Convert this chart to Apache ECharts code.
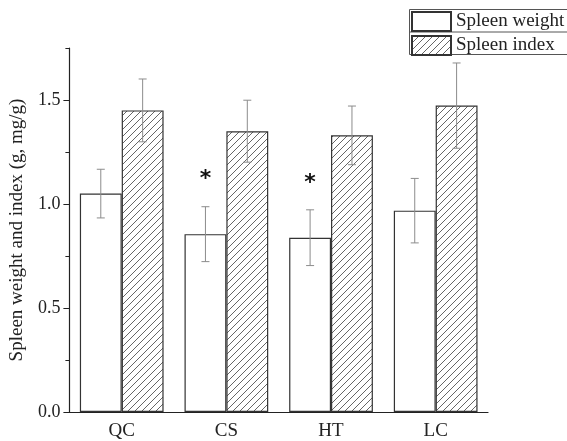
<!DOCTYPE html>
<html>
<head>
<meta charset="utf-8">
<script src="https://cdn.jsdelivr.net/npm/echarts@6/dist/echarts.min.js"></script>
<style>
    html, body { margin: 0; padding: 0; background: #fff; }
    #chart { width: 567px; height: 441px; }
</style>
</head>
<body>
<div id="chart"></div>
<script>
    // data
    var groups = ['QC', 'CS', 'HT', 'LC'];
    var weightMean = [1.05, 0.855, 0.838, 0.968];
    var weightErr = [0.117, 0.132, 0.134, 0.155];
    var indexMean = [1.45, 1.35, 1.33, 1.473];
    var indexErr = [0.151, 0.149, 0.141, 0.205];
    var weightSig = ['', '*', '*', ''];
    var yTicks = [0, 0.5, 1.0, 1.5];
    var yMax = 1.75;

    var serif = '"Liberation Serif", "DejaVu Serif", serif';
    var txt = '#222';

    var errData = [];
    for (var i = 0; i < groups.length; i++) {
        errData.push([i, weightMean[i], weightErr[i], -1]);
        errData.push([i, indexMean[i], indexErr[i], 1]);
    }
    var sigData = [];
    for (var i = 0; i < groups.length; i++) {
        if (weightSig[i]) sigData.push([i, weightMean[i] + weightErr[i], weightSig[i]]);
    }

    // "/" hatch pattern
    function makeHatch(s) {
        var c = document.createElement('canvas');
        c.width = s;
        c.height = s;
        var ctx = c.getContext('2d');
        ctx.fillStyle = '#fff';
        ctx.fillRect(0, 0, s, s);
        ctx.strokeStyle = '#555';
        ctx.lineWidth = 0.9;
        ctx.beginPath();
        ctx.moveTo(-1, s + 1); ctx.lineTo(s + 1, -1);
        ctx.moveTo(-1, 1); ctx.lineTo(1, -1);
        ctx.moveTo(s - 1, s + 1); ctx.lineTo(s + 1, s - 1);
        ctx.stroke();
        return c;
    }

    function renderErr(params, api) {
        var i = api.value(0), m = api.value(1), e = api.value(2), side = api.value(3);
        var band = api.size([1, 0])[0];
        var top = api.coord([i, m + e]);
        var bot = api.coord([i, m - e]);
        var x = top[0] + side * band * 0.2;
        var cap = 4;
        var st = { stroke: '#8c8c8c', lineWidth: 1 };
        return {
            type: 'group',
            children: [
                { type: 'line', shape: { x1: x, y1: top[1], x2: x, y2: bot[1] }, style: st },
                { type: 'line', shape: { x1: x - cap, y1: top[1], x2: x + cap, y2: top[1] }, style: st },
                { type: 'line', shape: { x1: x - cap, y1: bot[1], x2: x + cap, y2: bot[1] }, style: st }
            ]
        };
    }

    function renderSig(params, api) {
        var band = api.size([1, 0])[0];
        var p = api.coord([api.value(0), api.value(1)]);
        return {
            type: 'text',
            x: p[0] - band * 0.2,
            y: p[1] - 27,
            style: {
                text: weightSig[api.value(0)],
                font: 'bold 22px "DejaVu Sans", sans-serif',
                fill: '#111',
                align: 'center',
                verticalAlign: 'middle'
            }
        };
    }

    var hatchFill = { image: makeHatch(7), repeat: 'repeat' };

    var myChart = echarts.init(document.getElementById('chart'));
    var option = {
        animation: false,
        backgroundColor: '#fff',
        grid: { left: 68, right: 79, top: 48, bottom: 29 },
        legend: {
            orient: 'vertical',
            left: 411,
            top: 11,
            itemWidth: 39,
            itemHeight: 19,
            itemGap: 3,
            padding: 0,
            icon: 'rect',
            textStyle: { fontFamily: serif, fontSize: 19, color: txt },
            data: ['Spleen weight', 'Spleen index']
        },
        graphic: [
            { type: 'rect', shape: { x: 409.5, y: 9.5, width: 170, height: 45 }, style: { fill: 'none', stroke: '#555', lineWidth: 1 }, silent: true },
            { type: 'line', shape: { x1: 409.5, y1: 32, x2: 580, y2: 32 }, style: { stroke: '#555', lineWidth: 1 }, silent: true }
        ],
        xAxis: {
            type: 'category',
            data: groups,
            axisLine: { lineStyle: { color: '#222', width: 1.2 } },
            axisTick: { show: false },
            axisLabel: { fontFamily: serif, fontSize: 19, color: txt, margin: 10 }
        },
        yAxis: [{
            type: 'value',
            min: 0,
            max: yMax,
            interval: 0.25,
            name: 'Spleen weight and index (g, mg/g)',
            nameLocation: 'middle',
            nameGap: 40,
            nameTextStyle: { fontFamily: serif, fontSize: 19, color: txt },
            axisLine: { show: true, lineStyle: { color: '#222', width: 1.2 } },
            axisTick: { show: true, length: 6, customValues: yTicks, lineStyle: { color: '#222' } },
            axisLabel: {
                fontFamily: serif, fontSize: 18, color: txt, margin: 9,
                customValues: yTicks,
                formatter: function(v) { return v.toFixed(1); }
            },
            splitLine: { show: false }
        }, {
            type: 'value',
            position: 'left',
            min: 0,
            max: yMax,
            interval: 0.25,
            axisLine: { show: false },
            axisTick: { show: true, length: 4, lineStyle: { color: '#222' } },
            axisLabel: { show: false },
            splitLine: { show: false }
        }],
        series: [{
            name: 'Spleen weight',
            type: 'bar',
            data: weightMean,
            barWidth: '40%',
            barGap: '0%',
            itemStyle: { color: '#fff', borderColor: '#333', borderWidth: 1.2 }
        }, {
            name: 'Spleen index',
            type: 'bar',
            data: indexMean,
            barWidth: '40%',
            barGap: '0%',
            itemStyle: { color: hatchFill, borderColor: '#333', borderWidth: 1.2 }
        }, {
            type: 'custom',
            renderItem: renderErr,
            data: errData,
            encode: { x: 0, y: 1 },
            z: 5
        }, {
            type: 'custom',
            renderItem: renderSig,
            data: sigData,
            encode: { x: 0, y: 1 },
            z: 6
        }]
    };
    myChart.setOption(option);
</script>
</body>
</html>
